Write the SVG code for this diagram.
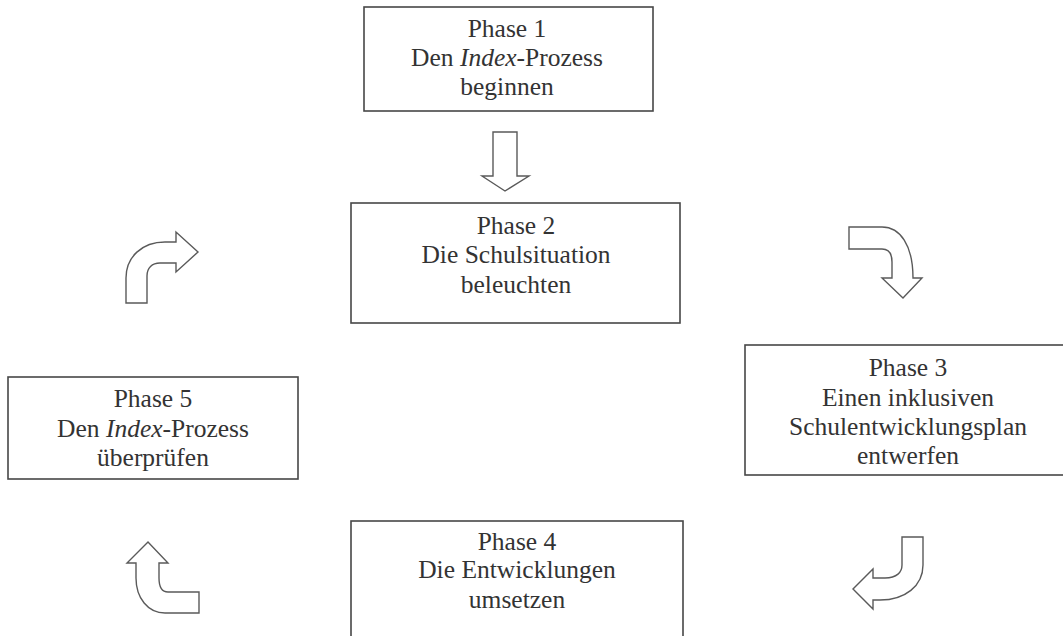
<svg xmlns="http://www.w3.org/2000/svg" width="1063" height="636" viewBox="0 0 1063 636">
<style>
.box{fill:#fff;stroke:#474747;stroke-width:1.6}
.arr{fill:#fff;stroke:#5a5a5a;stroke-width:1.4;stroke-linejoin:miter}
text{font-family:"Liberation Serif","Times New Roman",serif;font-size:25.5px;fill:#333;text-anchor:middle}
.i{font-style:italic}
</style>
<rect width="1063" height="636" fill="#fff"/>
<g id="phase1">
<rect class="box" x="364" y="7" width="289" height="104"/>
<text x="507" y="37">Phase 1</text>
<text x="507" y="66">Den <tspan class="i">Index</tspan>-Prozess</text>
<text x="507" y="95">beginnen</text>
</g>
<g id="phase2">
<rect class="box" x="351" y="203" width="329" height="120"/>
<text x="516" y="234">Phase 2</text>
<text x="516" y="263">Die Schulsituation</text>
<text x="516" y="293">beleuchten</text>
</g>
<g id="phase3">
<rect class="box" x="745" y="345" width="330" height="130"/>
<text x="908" y="376">Phase 3</text>
<text x="908" y="406">Einen inklusiven</text>
<text x="908" y="435">Schulentwicklungsplan</text>
<text x="908" y="464">entwerfen</text>
</g>
<g id="phase4">
<rect class="box" x="351" y="521" width="332" height="130"/>
<text x="517" y="550">Phase 4</text>
<text x="517" y="578">Die Entwicklungen</text>
<text x="517" y="608">umsetzen</text>
</g>
<g id="phase5">
<rect class="box" x="8" y="377" width="290" height="102"/>
<text x="153" y="407">Phase 5</text>
<text x="153" y="437">Den <tspan class="i">Index</tspan>-Prozess</text>
<text x="153" y="466">überprüfen</text>
</g>
<g id="connectors">
<path class="arr" d="M493,132 L517,132 L517,176 L529,176 L505,191 L482,176 L493,176 Z"/>
<path class="arr" d="M849,227 L882,227 C900,227 913,245 913,278 L922,278 L903,298 L882,278 L892,278 L892,262 C892,254 889,249 882,249 L849,249 Z"/>
<path class="arr" d="M902,537 L923,537 L923,565 C923,586 905,600 880,600 L873,600 L873,609 L853,589 L873,569 L873,578 L885,578 C897,578 902,572 902,565 Z"/>
<path class="arr" d="M199,592 L168,592 C162,592 159,587 159,578 L159,563 L168,563 L148,542 L127,563 L136,563 L136,578 C136,598 148,613 165,613 L199,613 Z"/>
<path class="arr" d="M126,303 L126,278 C126,257 142,242 165,242 L176,242 L176,232 L198,252 L176,272 L176,263 L160,263 C152,263 147,268 147,276 L147,303 Z"/>
</g>
</svg>
